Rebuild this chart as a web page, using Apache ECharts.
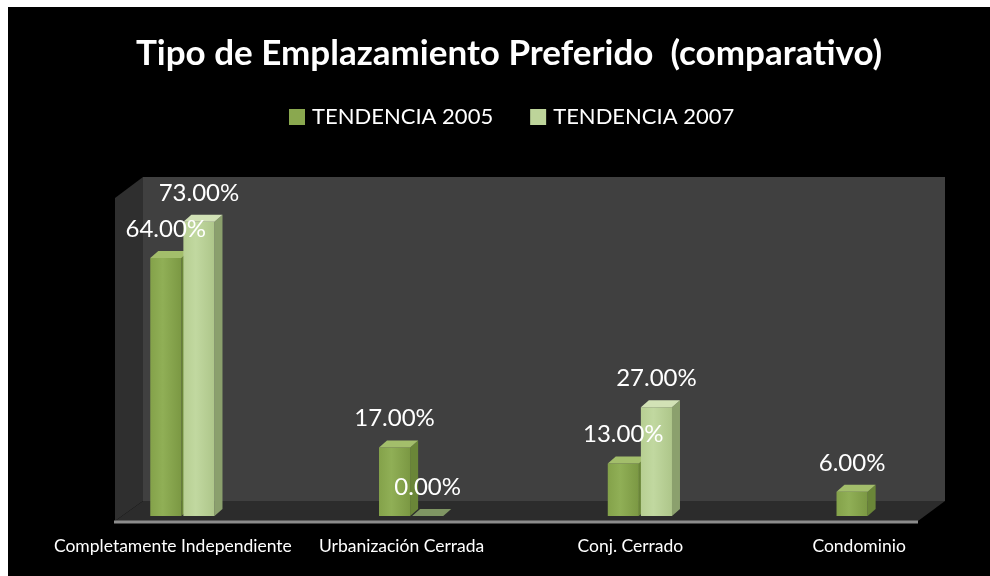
<!DOCTYPE html>
<html>
<head>
<meta charset="utf-8">
<script src="https://cdn.jsdelivr.net/npm/echarts@6/dist/echarts.min.js"></script>
<style>
  html, body { margin: 0; padding: 0; background: #fff; }
  #frame { position: absolute; left: 8px; top: 7px; width: 982px; height: 569px; background: #000; }
  #chart { position: absolute; left: 0; top: 0; width: 990px; height: 576px; }
</style>
</head>
<body>
<div id="frame"></div>
<div id="chart"></div>
<script>
// datos
const categories = ['Completamente Independiente', 'Urbanización Cerrada', 'Conj. Cerrado', 'Condominio'];
const seriesNames = ['TENDENCIA 2005', 'TENDENCIA 2007'];
const tendencia2005 = [64, 17, 13, 6];
const tendencia2007 = [73, 0, 27, null];

const FONT = 'Lato, "Open Sans", sans-serif';

// colores de cada serie: frente, tapa, lado
const palettes = [
  {front: ['#84a24a', '#90af56', '#7b9843'], top: '#a3be6b', side: '#6a8638', legend: '#8aa84f'},
  {front: ['#b7cf92', '#c1d8a0', '#aec68a'], top: '#d2e2b6', side: '#8ba06d', legend: '#bdd49a'}
];

const toData = arr => arr.map((v, i) => [i, v]).filter(d => d[1] !== null);

// barra 3D: cara frontal, tapa y lado derecho
const make3dBar = (sIdx) => (params, api) => {
  const cat = api.value(0);
  const val = api.value(1);
  const base = api.coord([cat, 0]);
  const top = api.coord([cat, val]);
  const band = api.size([1, 0])[0];
  const w = band * 0.136;
  const x0 = sIdx === 0 ? base[0] - w - 1 : base[0] + 1;
  const x1 = x0 + w;
  const yb = base[1];
  const yt = top[1];
  const dx = 8, dy = 7;
  const p = palettes[sIdx];
  const children = [];
  if (yb - yt > 0.5) {
    children.push({
      type: 'polygon',
      shape: {points: [[x1, yt], [x1 + dx, yt - dy], [x1 + dx, yb - dy], [x1, yb]]},
      style: {fill: p.side}
    });
    children.push({
      type: 'rect',
      shape: {x: x0, y: yt, width: w, height: yb - yt},
      style: {
        fill: {
          type: 'linear', x: 0, y: 0, x2: 1, y2: 0,
          colorStops: [{offset: 0, color: p.front[0]}, {offset: 0.4, color: p.front[1]}, {offset: 1, color: p.front[2]}]
        }
      }
    });
  }
  children.push({
    type: 'polygon',
    shape: {points: [[x0, yt], [x1, yt], [x1 + dx, yt - dy], [x0 + dx, yt - dy]]},
    style: {fill: yb - yt > 0.5 ? p.top : '#7f9563'}
  });
  children.push({
    type: 'text',
    z2: 100,
    style: {
      text: val.toFixed(2) + '%',
      x: (x0 + x1) / 2,
      y: yt - 29,
      fill: '#ffffff',
      font: '24px ' + FONT,
      align: 'center',
      verticalAlign: 'middle'
    }
  });
  return {type: 'group', children};
};

const chart = echarts.init(document.getElementById('chart'));

const option = {
  backgroundColor: 'transparent',
  animation: false,
  title: {
    text: 'Tipo de Emplazamiento Preferido  (comparativo)',
    left: 131,
    top: 31,
    textStyle: {color: '#fff', fontSize: 35, fontWeight: 'bold', fontFamily: FONT}
  },
  legend: {
    data: seriesNames.map((n, i) => ({name: n, itemStyle: {color: palettes[i].legend}})),
    top: 101,
    left: 284,
    icon: 'rect',
    itemWidth: 16,
    itemHeight: 16,
    itemGap: 37,
    textStyle: {color: '#fff', fontSize: 22, fontFamily: FONT, padding: [0, 0, 0, 2]}
  },
  grid: {left: 68, right: 7, top: 113, bottom: 60},
  xAxis: {
    type: 'category',
    data: categories,
    axisLine: {show: false},
    axisTick: {show: false},
    axisLabel: {
      color: '#fff', fontSize: 17.5, fontFamily: FONT, margin: 21,
      interval: 0, padding: [0, 19, 0, 0]
    }
  },
  yAxis: {type: 'value', min: 0, max: 100, show: false},
  graphic: [
    {type: 'rect', z: 0, shape: {x: 143, y: 177, width: 802, height: 324}, style: {fill: '#404040'}},
    {type: 'polygon', z: 0, shape: {points: [[115, 198], [143, 177], [143, 501], [115, 521]]}, style: {fill: '#2f2f2f'}},
    {type: 'polygon', z: 0, shape: {points: [[143, 501], [945, 501], [918, 521], [115, 521]]}, style: {fill: '#2c2c2c'}},
    {type: 'line', z: 0, shape: {x1: 114, y1: 522, x2: 918, y2: 522}, style: {stroke: '#8c8c8c', lineWidth: 3}}
  ],
  series: [
    {name: seriesNames[0], type: 'custom', renderItem: make3dBar(0), data: toData(tendencia2005),
      itemStyle: {color: palettes[0].legend}},
    {name: seriesNames[1], type: 'custom', renderItem: make3dBar(1), data: toData(tendencia2007),
      itemStyle: {color: palettes[1].legend}}
  ]
};

chart.setOption(option);
</script>
</body>
</html>
